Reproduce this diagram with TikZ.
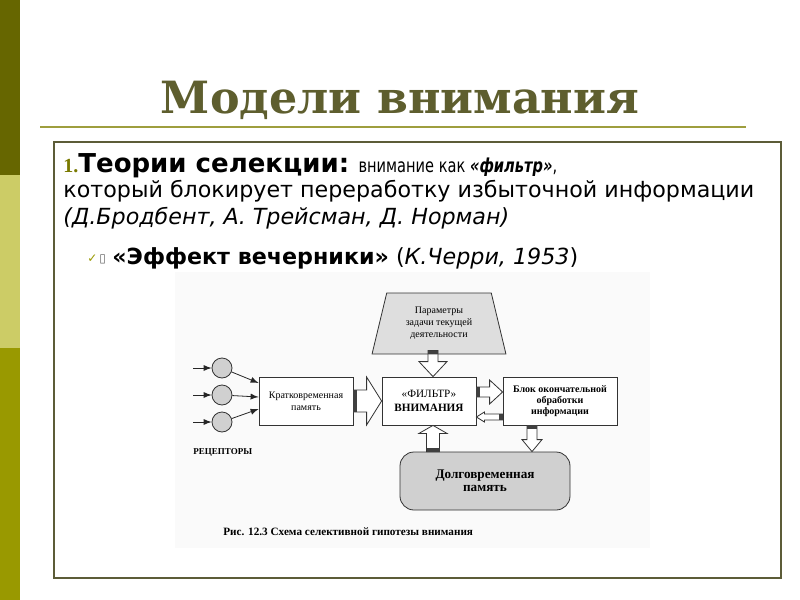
\documentclass[tikz,border=0pt]{standalone}
\usepackage{fontspec}
\usepackage{graphicx}
\setmainfont{DejaVu Sans}
\newfontfamily\titlefont{DejaVu Serif}
\newfontfamily\figfont{Liberation Serif}
\usetikzlibrary{shapes.geometric, arrows, positioning, calc}

\definecolor{barDark}{HTML}{666600}
\definecolor{barLight}{HTML}{CCCC66}
\definecolor{barMid}{HTML}{999900}
\definecolor{titleOlive}{HTML}{5E5E2E}
\definecolor{ruleOlive}{HTML}{9E9E3E}
\definecolor{frameOlive}{HTML}{5C5C38}
\definecolor{figGrey}{HTML}{D0D0D0}

\tikzset{
  figbox/.style={draw=black!80, fill=white, thin, minimum height=24pt, align=center, inner sep=1pt},
  receptor/.style={circle, draw=black!80, fill=figGrey, thin, minimum size=10pt, inner sep=0pt},
  bodytext/.style={anchor=base west, inner sep=0pt}
}

% hollow block arrow: from, to, stem half width, head half width, head length
\newcommand{\fatarrow}[5]{%
  \draw[black!80, thin, fill=white] let \p1=#1, \p2=#2,
      \n1={atan2(\y2-\y1,\x2-\x1)}, \n2={veclen(\x2-\x1,\y2-\y1)} in
    [shift={(\p1)}, rotate=\n1]
    (0pt,-#3) -- (\n2-#5,-#3) -- (\n2-#5,-#4) -- (\n2,0pt) -- (\n2-#5,#4) -- (\n2-#5,#3) -- (0pt,#3) -- cycle;
  \fill[black!75] let \p1=#1, \p2=#2,
      \n1={atan2(\y2-\y1,\x2-\x1)} in
    [shift={(\p1)}, rotate=\n1] (0pt,-#3) rectangle (2pt,#3);
}

\begin{document}
\begin{tikzpicture}[x=0.5pt, y=-0.5pt]
  \useasboundingbox (0,0) rectangle (800,600);
  \fill[white] (0,0) rectangle (800,600);

  % left colour bar
  \fill[barDark] (0,0) rectangle (20,175);
  \fill[barLight] (0,175) rectangle (20,348);
  \fill[barMid] (0,348) rectangle (20,600);

  % title and frame
  \node[text=titleOlive, font=\titlefont\bfseries\fontsize{22.2}{26}\selectfont, anchor=base] (title) at (400,113) {Модели внимания};
  \draw[ruleOlive, line width=1pt] (40,127) -- (746,127);
  \draw[frameOlive, line width=1.3pt] (54,142) rectangle (781,578);

  % text
  \node[bodytext, font=\fontsize{11.1}{14}\selectfont] (line1) at (63,172)
    {{\figfont\bfseries\fontsize{10}{10}\selectfont\color{barMid!80!black}1.}{\bfseries\fontsize{13}{15}\selectfont Теории селекции:}
     \scalebox{0.76}[1]{\fontsize{9.6}{12}\selectfont внимание как {\bfseries\itshape «фильтр»},}};
  \node[bodytext, font=\fontsize{11.1}{14}\selectfont] (line2) at (63,197)
    {который блокирует переработку избыточной информации};
  \node[bodytext, font=\itshape\fontsize{11.1}{14}\selectfont] (line3) at (63,224)
    {(Д.Бродбент, А. Трейсман, Д. Норман)};
  \node[bodytext, font=\fontsize{6}{6}\selectfont] (mark) at (87,262)
    {{\color{barMid}✓}\,{\color{black!60}▯}};
  \node[bodytext, font=\fontsize{11.1}{14}\selectfont] (line4) at (112,264)
    {{\bfseries«Эффект вечерники»} (\textit{К.Черри, 1953})};

  % figure
  \fill[black!2] (175,272) rectangle (650,548);

  \node[trapezium, trapezium angle=74, trapezium stretches=true, draw=black!80, thin, fill=black!13,
        minimum width=67pt, minimum height=30.5pt, align=center, inner sep=0pt,
        font=\figfont\fontsize{5}{6}\selectfont] (task) at (439,323.5) {Параметры\\задачи текущей\\деятельности};

  \node[figbox, minimum width=47pt, font=\figfont\fontsize{5}{6}\selectfont] (stm) at (306,401) {Кратковременная\\память};
  \node[figbox, minimum width=47pt, font=\figfont\fontsize{5.6}{7}\selectfont] (filter) at (429,401) {«ФИЛЬТР»\\\textbf{ВНИМАНИЯ}};
  \node[figbox, minimum width=57pt, font=\figfont\bfseries\fontsize{5}{5.5}\selectfont] (final) at (560,401) {Блок окончательной\\обработки\\информации};
  \node[figbox, minimum width=85pt, minimum height=29pt, rounded corners=7pt, fill=figGrey,
        font=\figfont\bfseries\fontsize{6.6}{6.5}\selectfont] (ltm) at (485,481) {Долговременная\\память};

  \node[receptor] (r1) at (222,368) {};
  \node[receptor] (r2) at (222,395) {};
  \node[receptor] (r3) at (222,422) {};
  \coordinate (in1) at (193,368);
  \coordinate (in2) at (193,395);
  \coordinate (in3) at (193,422);
  \node[anchor=base west, inner sep=0pt, font=\figfont\bfseries\fontsize{4.5}{5}\selectfont] (receptors) at (193,454) {РЕЦЕПТОРЫ};

  \foreach \i in {1,2,3}
    \draw[-latex, black!85, thin] (in\i) -- (r\i);
  \draw[-latex, black!85, thin] (r1) -- ($(stm.west)+(0,-18)$);
  \draw[-latex, black!85, thin] (r2) -- ($(stm.west)+(0,-4)$);
  \draw[-latex, black!85, thin] (r3) -- ($(stm.west)+(0,8)$);

  \fatarrow{(stm.east)}{(filter.west)}{5.5pt}{12pt}{7.5pt}
  \fatarrow{($(filter.east)+(0,-9)$)}{($(final.west)+(0,-9)$)}{2.5pt}{6pt}{6.5pt}
  \fatarrow{($(final.west)+(0,16)$)}{($(filter.east)+(0,16)$)}{1.5pt}{2.5pt}{4pt}
  \fatarrow{($(task.south)+(-6,-4)$)}{($(filter.north)+(4,0)$)}{2.5pt}{7pt}{7.5pt}
  \fatarrow{($(ltm.north)+(-52,0)$)}{($(filter.south)+(4,0)$)}{3.25pt}{7pt}{4pt}
  \fatarrow{($(final.south)+(-28,0)$)}{($(ltm.north)+(47,0)$)}{2.5pt}{5pt}{6pt}

  \node[anchor=base west, inner sep=0pt, font=\figfont\bfseries\fontsize{5.6}{6}\selectfont] (caption) at (223,535)
    {Рис. 12.3 Схема селективной гипотезы внимания};
\end{tikzpicture}
\end{document}
